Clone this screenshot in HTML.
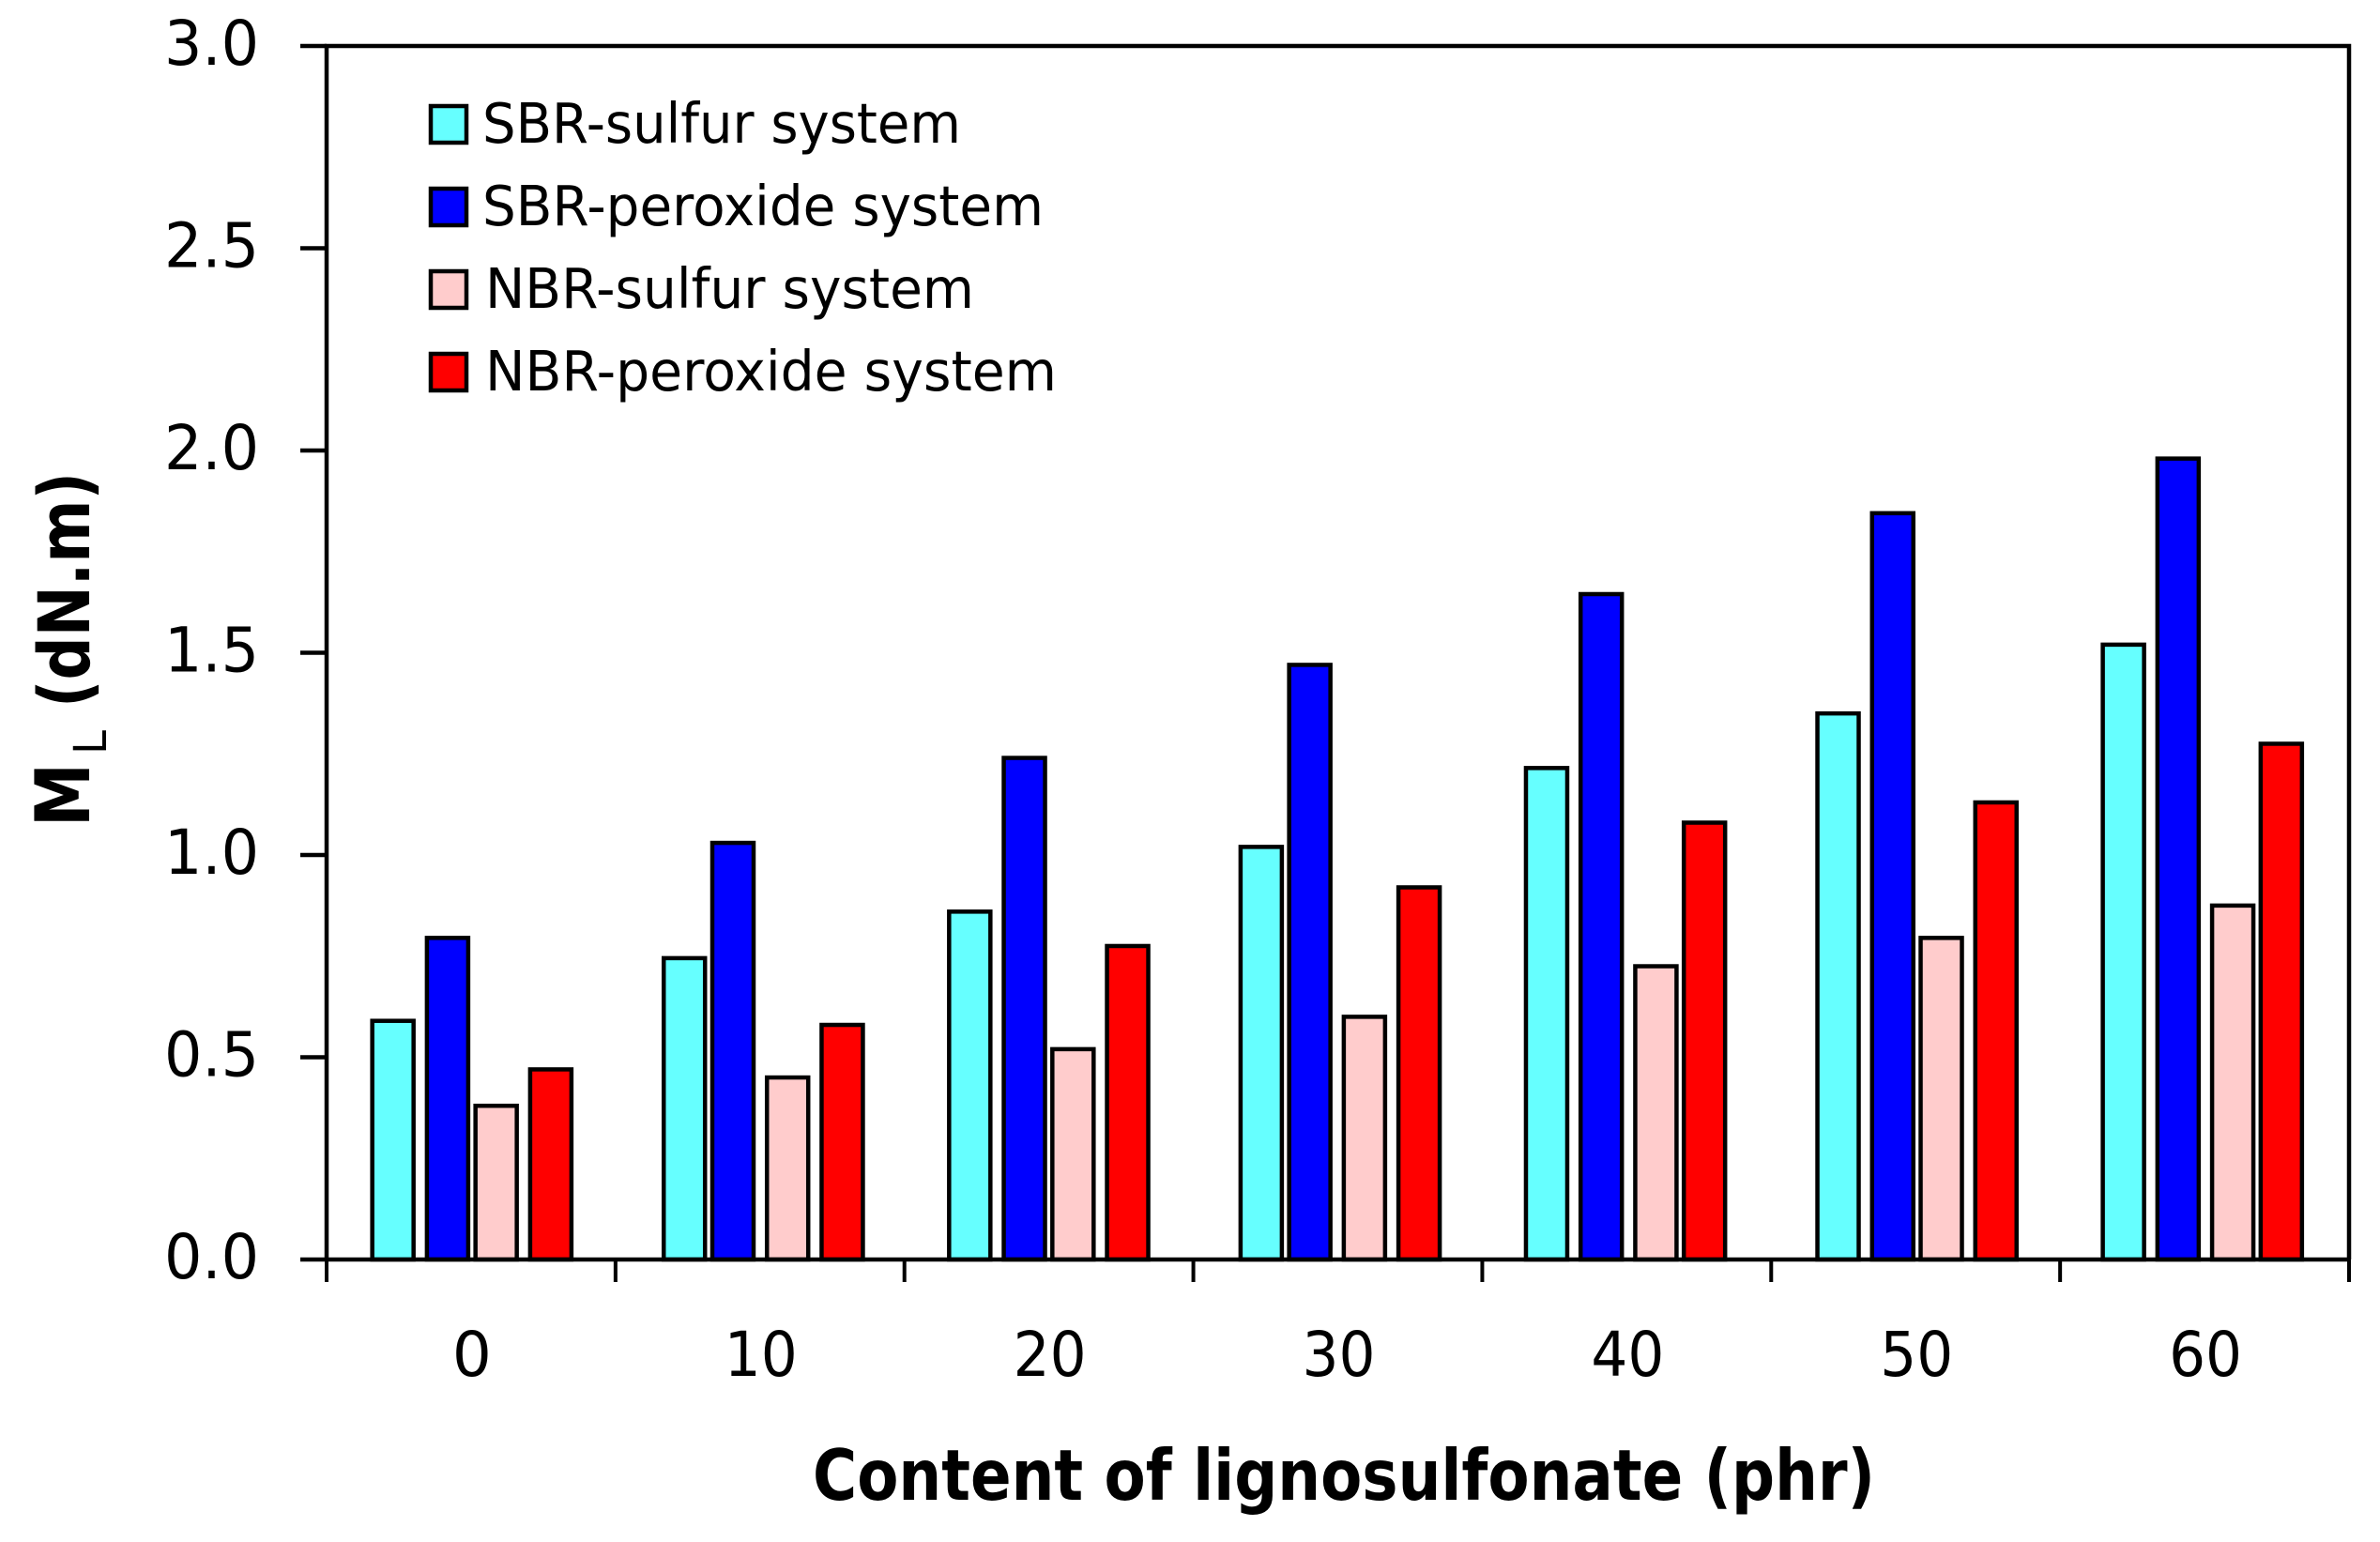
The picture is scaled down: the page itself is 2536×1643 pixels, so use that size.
<!DOCTYPE html>
<html lang="en">
<head>
<meta charset="utf-8">
<title>ML versus lignosulfonate content</title>
<style>
html,body{margin:0;padding:0;background:#fff;}
svg{display:block;}
text{font-family:"DejaVu Sans","Liberation Sans",sans-serif;fill:#000;}
</style>
</head>
<body>
<svg id="chart" xmlns="http://www.w3.org/2000/svg" width="2536" height="1643" viewBox="0 0 2536 1643">
  <rect x="0" y="0" width="2536" height="1643" fill="#fff"/>
  <g id="bars"></g>
  <g id="axes"></g>
  <g id="y-labels" font-size="66"></g>
  <g id="x-labels" font-size="66"></g>
  <g id="legend" font-size="59"></g>
  <g font-weight="bold">
    <text transform="translate(95,881) rotate(-90)" font-size="80" textLength="68" lengthAdjust="spacingAndGlyphs">M</text>
    <text transform="translate(113,804) rotate(-90)" font-size="48" font-weight="normal" textLength="26" lengthAdjust="spacingAndGlyphs">L</text>
    <text transform="translate(95,754) rotate(-90)" font-size="76" textLength="251" lengthAdjust="spacingAndGlyphs">(dN.m)</text>
  </g>
  <text x="866" y="1598" font-size="75" font-weight="bold" textLength="1132" lengthAdjust="spacingAndGlyphs">Content of lignosulfonate (phr)</text>
</svg>
<script>
const categories = ['0', '10', '20', '30', '40', '50', '60'];
const seriesNames = ['SBR-sulfur system', 'SBR-peroxide system', 'NBR-sulfur system', 'NBR-peroxide system'];
const sbrSulfur = [0.59, 0.745, 0.86, 1.02, 1.215, 1.35, 1.52];
const sbrPeroxide = [0.795, 1.03, 1.24, 1.47, 1.645, 1.845, 1.98];
const nbrSulfur = [0.38, 0.45, 0.52, 0.60, 0.725, 0.795, 0.875];
const nbrPeroxide = [0.47, 0.58, 0.775, 0.92, 1.08, 1.13, 1.275];
const yTickLabels = ['0.0', '0.5', '1.0', '1.5', '2.0', '2.5', '3.0'];

const NS = 'http://www.w3.org/2000/svg';
const plot = { left: 348, right: 2503, top: 49, bottom: 1342, yMax: 3 };
const seriesValues = [sbrSulfur, sbrPeroxide, nbrSulfur, nbrPeroxide];
const seriesFills = ['#66ffff', '#0000ff', '#ffcccc', '#ff0000'];
const seriesKeys = ['sbr-sulfur', 'sbr-peroxide', 'nbr-sulfur', 'nbr-peroxide'];

function yScale(v) {
  return plot.bottom - (v / plot.yMax) * (plot.bottom - plot.top);
}
function band() {
  return (plot.right - plot.left) / categories.length;
}
function xScale(i) {
  return plot.left + i * band();
}
function barLeft(i, s) {
  // Bars sit on the coarse pixel grid of the source bitmap, hence the snap.
  const grid = 6.47;
  const raw = xScale(i) + band() * (0.1515 + s * 0.1819);
  return Math.round(raw / grid) * grid;
}
function make(tag, attrs, parent, text) {
  const el = document.createElementNS(NS, tag);
  for (const k in attrs) el.setAttribute(k, attrs[k]);
  if (text !== undefined) el.textContent = text;
  parent.appendChild(el);
  return el;
}

const barsG = document.getElementById('bars');
const axesG = document.getElementById('axes');
const yLabelsG = document.getElementById('y-labels');
const xLabelsG = document.getElementById('x-labels');
const legendG = document.getElementById('legend');

const barW = 44;
seriesValues.forEach(function (vals, s) {
  vals.forEach(function (v, i) {
    const top = yScale(v);
    const r = make('rect', {
      x: barLeft(i, s) + 2, y: top, width: barW,
      height: Math.max(0, plot.bottom - top),
      fill: seriesFills[s], stroke: '#000', 'stroke-width': 4.5
    }, barsG);
    
    
  });
});

const frame = make('path', {
  d: 'M' + plot.left + ' ' + plot.bottom + 'V' + plot.top + 'H' + plot.right + 'V' + plot.bottom,
  fill: 'none', stroke: '#000', 'stroke-width': 4.5
}, axesG);



const xAxis = make('line', {
  x1: plot.left, x2: plot.right, y1: plot.bottom, y2: plot.bottom,
  stroke: '#000', 'stroke-width': 4.5
}, axesG);



yTickLabels.forEach(function (label) {
  const v = parseFloat(label);
  const y = yScale(v);
  const tick = make('line', {
    x1: plot.left - 28, x2: plot.left, y1: y, y2: y, stroke: '#000', 'stroke-width': 4.5
  }, axesG);
  
  
  const t = make('text', {
    x: 175, y: y + 20, textLength: 101, lengthAdjust: 'spacingAndGlyphs'
  }, yLabelsG, label);
  
  
});

for (let i = 0; i <= categories.length; i++) {
  const x = xScale(i);
  const tick = make('line', {
    x1: x, x2: x, y1: plot.bottom, y2: plot.bottom + 24, stroke: '#000', 'stroke-width': 4
  }, axesG);
  
  
}
categories.forEach(function (c, i) {
  const attrs = { x: xScale(i) + band() / 2 + 1, y: 1466, 'text-anchor': 'middle' };
  if (c.length > 1) {
    attrs.textLength = 78;
    attrs.lengthAdjust = 'spacingAndGlyphs';
  }
  const t = make('text', attrs, xLabelsG, c);
  
  
});

const legendWidths = [510, 598, 521, 609];
const legendTextX = [514, 514, 517, 517];
seriesNames.forEach(function (name, s) {
  const rowTop = 111 + s * 88;
  const swatch = make('rect', {
    x: 459, y: rowTop + 2, width: 38, height: 39,
    fill: seriesFills[s], stroke: '#000', 'stroke-width': 4.5
  }, legendG);
  
  
  const t = make('text', {
    x: legendTextX[s], y: rowTop + 41, textLength: legendWidths[s], lengthAdjust: 'spacingAndGlyphs'
  }, legendG, name);
  
  
});
</script>
</body>
</html>
